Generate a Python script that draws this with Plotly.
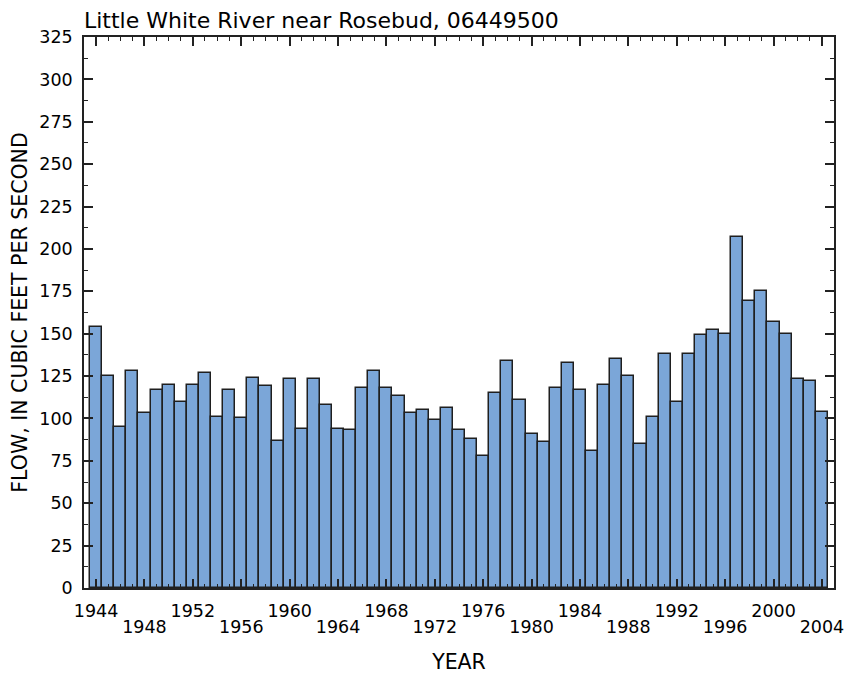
import plotly.graph_objects as go

years = list(range(1944, 2005))
flow = [154, 125, 95, 128, 103, 117, 120, 110, 120, 127,
        101, 117, 100, 124, 119, 87, 123, 94, 123, 108,
        94, 93, 118, 128, 118, 113, 103, 105, 99, 106,
        93, 88, 78, 115, 134, 111, 91, 86, 118, 133,
        117, 81, 120, 135, 125, 85, 101, 138, 110, 138,
        149, 152, 150, 207, 169, 175, 157, 150, 123, 122,
        104]

upper_labels = list(range(1944, 2005, 8))   # 1944, 1952, ...
lower_labels = list(range(1948, 2005, 8))   # 1948, 1956, ...
major_ticks = list(range(1944, 2005, 4))
y_ticks = list(range(0, 326, 25))

title_text = "Little White River near Rosebud, 06449500"
y_title = "FLOW, IN CUBIC FEET PER SECOND"
x_title = "YEAR"

FONT = "DejaVu Sans, Liberation Sans, Arial, sans-serif"
AX = "#222222"
TICKSIZE = 17.5

fig = go.Figure()
fig.add_trace(go.Bar(
    x=years, y=flow, width=1,
    marker=dict(color="#7ba6d8", line=dict(color="#1f1f1f", width=1.5)),
    hoverinfo="x+y", showlegend=False,
))
# invisible trace to carry the second (lower-row) label axis
fig.add_trace(go.Scatter(
    x=[years[0]], y=[0], xaxis="x2", mode="markers",
    marker=dict(opacity=0), hoverinfo="skip", showlegend=False,
))

xrange = [1943, 2005]

fig.update_layout(
    width=847, height=674,
    margin=dict(l=84, r=13, t=37, b=86, autoexpand=False),
    paper_bgcolor="white", plot_bgcolor="white",
    font=dict(family=FONT, size=TICKSIZE, color="black"),
    bargap=0,
    title=dict(text=title_text, x=84 / 847, xref="container", xanchor="left",
               y=(674 - 20) / 674, yref="container", yanchor="middle",
               font=dict(size=22, color="black")),
    xaxis=dict(
        range=xrange, tickmode="array", tickvals=major_ticks,
        ticktext=[str(v) if v in upper_labels else "" for v in major_ticks],
        ticks="inside", ticklen=9, tickwidth=1.5, tickcolor=AX,
        minor=dict(tickmode="linear", tick0=1944, dtick=1, ticks="inside",
                   ticklen=4, tickwidth=1.2, tickcolor=AX, showgrid=False),
        showline=True, linecolor=AX, linewidth=1.5, mirror="ticks",
        showgrid=False, zeroline=False,
        title=dict(text=x_title, standoff=36, font=dict(size=20.5)),
        ticklabelstandoff=6,
        tickfont=dict(size=TICKSIZE),
    ),
    xaxis2=dict(
        range=xrange, overlaying="x", anchor="y", side="bottom",
        tickmode="array", tickvals=lower_labels,
        ticktext=[str(v) for v in lower_labels],
        ticks="", showline=False, showgrid=False, zeroline=False,
        ticklabelstandoff=26, tickfont=dict(size=TICKSIZE),
    ),
    yaxis=dict(
        range=[0, 325], tickmode="array", tickvals=y_ticks,
        ticks="inside", ticklen=9, tickwidth=1.5, tickcolor=AX,
        minor=dict(tickmode="linear", tick0=0, dtick=12.5, ticks="inside",
                   ticklen=4, tickwidth=1.2, tickcolor=AX, showgrid=False),
        showline=True, linecolor=AX, linewidth=1.5, mirror="ticks",
        showgrid=False, zeroline=False,
        title=dict(text=y_title, standoff=6, font=dict(size=20.5)),
        ticklabelstandoff=6,
        tickfont=dict(size=TICKSIZE),
    ),
)

fig.write_html("out.html",
               config={"displayModeBar": False},
               post_script="document.body.style.margin='0';document.body.style.padding='0';")
